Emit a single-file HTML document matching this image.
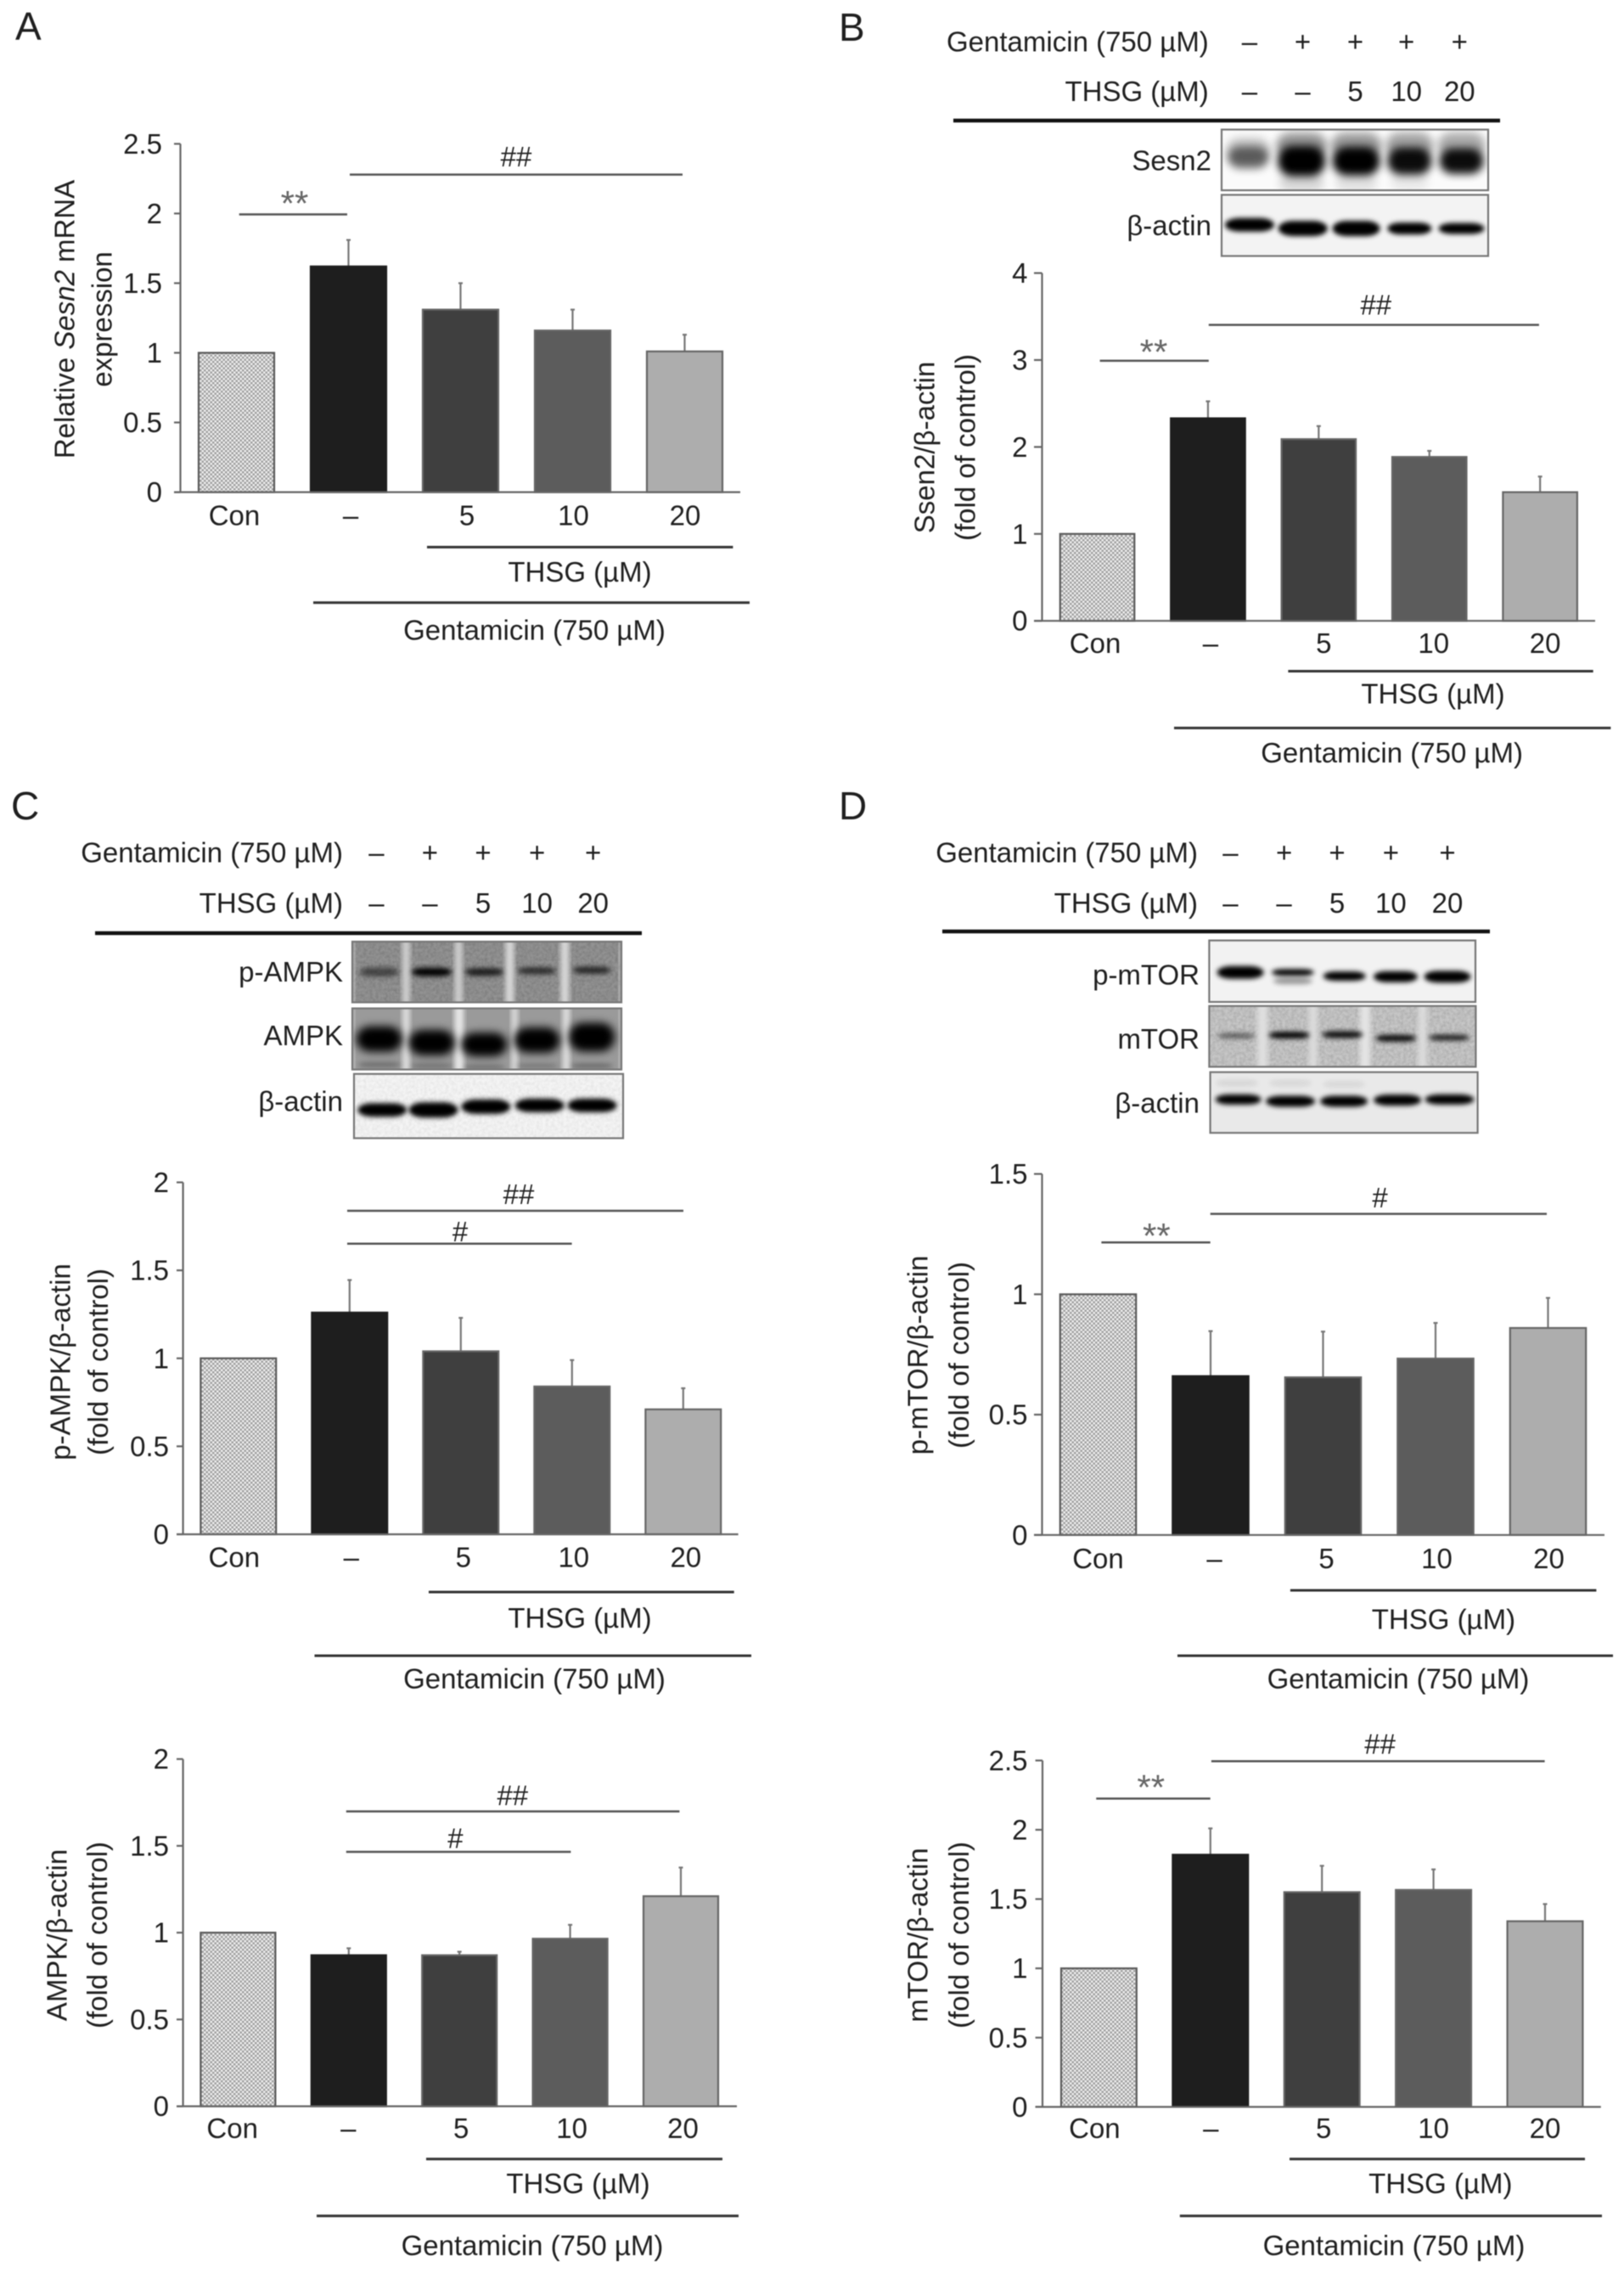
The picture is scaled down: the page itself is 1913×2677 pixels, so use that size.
<!DOCTYPE html>
<html lang="en">
<head>
<meta charset="utf-8">
<title>Sesn2, AMPK and mTOR expression charts</title>
<style>
  html, body { margin: 0; padding: 0; background: #fff; }
  #figure { display: block; width: 1913px; height: 2677px; filter: blur(0.6px); }
  text { font-family: "Liberation Sans", "DejaVu Sans", sans-serif; fill: #1f1f1f; }
</style>
</head>
<body>
<svg id="figure" xmlns="http://www.w3.org/2000/svg" width="1913" height="2677" viewBox="0 0 1913 2677">
  <defs>
    <pattern id="hatch" width="5" height="5" patternUnits="userSpaceOnUse">
      <rect width="5" height="5" fill="#eeeeee"></rect>
      <rect width="2.5" height="2.5" fill="#a0a0a0"></rect>
      <rect x="2.5" y="2.5" width="2.5" height="2.5" fill="#a0a0a0"></rect>
    </pattern>
    <filter id="soft" x="-30%" y="-150%" width="160%" height="400%"><feGaussianBlur stdDeviation="2.8"></feGaussianBlur></filter>
    <filter id="softer" x="-30%" y="-150%" width="160%" height="400%"><feGaussianBlur stdDeviation="5"></feGaussianBlur></filter>
    <filter id="grain" x="0" y="0" width="100%" height="100%">
      <feTurbulence type="fractalNoise" baseFrequency="0.28" numOctaves="2" seed="4"></feTurbulence>
      <feColorMatrix type="matrix" values="0 0 0 0 0.15  0 0 0 0 0.15  0 0 0 0 0.15  1.7 0 0 0 -0.55"></feColorMatrix>
    </filter>
  </defs>
</svg>
<script>
// ---- Chart data ----
const categories = ['Con', '–', '5', '10', '20'];

const sesn2MrnaValues = [1, 1.62, 1.31, 1.16, 1.01];
const sesn2MrnaErrors = [0, 0.19, 0.19, 0.15, 0.12];
const sesn2MrnaTicks = ['0', '0.5', '1', '1.5', '2', '2.5'];

const sesn2ProteinValues = [1, 2.33, 2.09, 1.885, 1.48];
const sesn2ProteinErrors = [0, 0.195, 0.15, 0.07, 0.18];
const sesn2ProteinTicks = ['0', '1', '2', '3', '4'];

const pAmpkValues = [1, 1.26, 1.04, 0.84, 0.71];
const pAmpkErrors = [0, 0.185, 0.19, 0.15, 0.12];
const pAmpkTicks = ['0', '0.5', '1', '1.5', '2'];

const ampkValues = [1, 0.87, 0.87, 0.965, 1.21];
const ampkErrors = [0, 0.04, 0.02, 0.08, 0.165];
const ampkTicks = ['0', '0.5', '1', '1.5', '2'];

const pMtorValues = [1, 0.66, 0.655, 0.733, 0.86];
const pMtorErrors = [0, 0.187, 0.19, 0.148, 0.125];
const pMtorTicks = ['0', '0.5', '1', '1.5'];

const mtorValues = [1, 1.82, 1.55, 1.566, 1.34];
const mtorErrors = [0, 0.19, 0.19, 0.148, 0.124];
const mtorTicks = ['0', '0.5', '1', '1.5', '2', '2.5'];

const barFills = ['url(#hatch)', '#1e1e1e', '#3f3f3f', '#5c5c5c', '#adadad'];
const barKeys = ['con', 'gentamicin', 'thsg-5', 'thsg-10', 'thsg-20'];

// ---- Drawing helpers ----
const NS = 'http://www.w3.org/2000/svg';
const root = document.getElementById('figure');
const FS = 33;

function el(tag, name, attrs, parent) {
  const e = document.createElementNS(NS, tag);
  
  
  for (const k in attrs) e.setAttribute(k, attrs[k]);
  (parent || root).appendChild(e);
  return e;
}
function txt(name, x, y, str, anchor, parent, size, fill) {
  const t = el('text', name, { x: x, y: y, 'text-anchor': anchor || 'middle', 'font-size': size || FS }, parent);
  if (fill) t.style.fill = fill;
  t.textContent = str;
  return t;
}
function line(name, x1, x2, y, w, color, parent) {
  return el('line', name, { x1: x1, x2: x2, y1: y, y2: y, stroke: color || '#555', 'stroke-width': w || 2.5 }, parent);
}

function drawChart(c) {
  const g = el('g', c.name, {});
  const sy = v => c.y0 - (v / c.yMax) * (c.y0 - c.top);
  const bx = i => c.barLeft + i * c.pitch;

  // bars + error bars
  c.values.forEach((v, i) => {
    const topY = sy(v);
    if (c.errors[i] > 0) {
      const errY = sy(v + c.errors[i]);
      el('line', 'error-bar-' + barKeys[i], { x1: bx(i) + c.barW / 2, x2: bx(i) + c.barW / 2, y1: topY, y2: errY, stroke: '#777', 'stroke-width': 2.2 }, g);
      el('line', 'error-cap-' + barKeys[i], { x1: bx(i) + c.barW / 2 - 2.5, x2: bx(i) + c.barW / 2 + 2.5, y1: errY, y2: errY, stroke: '#777', 'stroke-width': 2.2 }, g);
    }
    el('rect', 'bar-' + barKeys[i], { x: bx(i), y: topY, width: c.barW, height: c.y0 - topY, fill: barFills[i], stroke: i === 0 ? '#5a5a5a' : (i === 1 ? '#1e1e1e' : '#666'), 'stroke-width': 2.2 }, g);
  });

  // axes
  el('line', 'y-axis', { x1: c.axisX, x2: c.axisX, y1: c.top, y2: c.y0, stroke: '#666', 'stroke-width': 2.2 }, g);
  el('line', 'x-axis', { x1: c.tickLeft, x2: c.right, y1: c.y0, y2: c.y0, stroke: '#666', 'stroke-width': 2.2 }, g);
  c.ticks.forEach(t => {
    const y = sy(parseFloat(t));
    el('line', 'y-tick', { x1: c.tickLeft, x2: c.axisX, y1: y, y2: y, stroke: '#666', 'stroke-width': 2.2 }, g);
    txt('y-tick-label', c.tickRight, y + 11.5, t, 'end', g);
  });

  // category labels
  c.cats.forEach((cat, i) => {
    txt('x-category-label', bx(i) + c.barW / 2 + c.labelDx[i], c.labelBase, cat, 'middle', g);
  });

  // group rules and captions
  line('thsg-rule', c.thsg[0], c.thsg[1], c.thsg[2], 3, '#333', g);
  txt('thsg-caption', c.thsg[3], c.thsg[4], 'THSG (µM)', 'middle', g);
  line('gentamicin-rule', c.gent[0], c.gent[1], c.gent[2], 3, '#333', g);
  txt('gentamicin-caption', c.gent[3], c.gent[4], 'Gentamicin (750 µM)', 'middle', g);

  // significance annotations
  c.sig.forEach(s => {
    line('significance-line', s[0], s[1], s[2], 2.5, '#555', g);
    if (s[3].indexOf('*') >= 0) {
      txt('significance-stars', s[4], s[5] + 21, s[3], 'middle', g, 42, '#666');
    } else {
      txt('significance-hash', s[4], s[5] + 11.5, s[3], 'middle', g, FS, '#222');
    }
  });

  // y axis title
  const t1 = el('text', 'y-axis-title', { transform: 'translate(' + (c.titleX[0] + 11) + ',' + c.titleY + ') rotate(-90)', 'text-anchor': 'middle', 'font-size': FS }, g);
  c.title(t1);
  const t2 = el('text', 'y-axis-title-line-2', { transform: 'translate(' + (c.titleX[1] + 11) + ',' + c.titleY + ') rotate(-90)', 'text-anchor': 'middle', 'font-size': FS }, g);
  t2.textContent = c.title2;
}

let clipCount = 0;
function blot(name, x, y, w, h, bg, lanes, gaps, noise, labelText, labelRight, labelBase) {
  const g = el('g', name, {});
  clipCount++;
  const cp = el('clipPath', 'blot-clip', { id: 'clip' + clipCount }, g);
  el('rect', 'blot-clip-rect', { x: x, y: y, width: w, height: h }, cp);
  const inner = el('g', 'blot-image', { 'clip-path': 'url(#clip' + clipCount + ')' }, g);
  el('rect', 'blot-background', { x: x, y: y, width: w, height: h, fill: bg }, inner);
  if (noise) el('rect', 'blot-grain', { x: x, y: y, width: w, height: h, fill: '#000', filter: 'url(#grain)', opacity: noise }, inner);
  gaps.forEach(p => {
    el('rect', 'lane-gap', { x: x + p[0] * w - p[1] / 2, y: y - 10, width: p[1], height: h + 20, fill: p[2], filter: 'url(#soft)' }, inner);
  });
  lanes.forEach(l => {
    el('rect', 'blot-band', { x: x + l[0] * w - l[1] / 2, y: y + l[2] * h - l[3] / 2, width: l[1], height: l[3], rx: l[1] * 0.3, ry: l[3] / 2, fill: '#000', opacity: l[4], filter: l[5] ? 'url(#softer)' : 'url(#soft)' }, inner);
  });
  el('rect', 'blot-frame', { x: x, y: y, width: w, height: h, fill: 'none', stroke: '#777', 'stroke-width': 2.2 }, g);
  txt('blot-label', labelRight, labelBase, labelText, 'end', g);
}

function header(name, right, base1, base2, cols, rule) {
  const g = el('g', name, {});
  txt('gentamicin-row-label', right, base1, 'Gentamicin (750 µM)', 'end', g);
  txt('thsg-row-label', right, base2, 'THSG (µM)', 'end', g);
  const row1 = ['–', '+', '+', '+', '+'];
  const row2 = ['–', '–', '5', '10', '20'];
  cols.forEach((x, i) => {
    txt('gentamicin-dose-marker', x, base1, row1[i], 'middle', g);
    txt('thsg-dose-marker', x, base2, row2[i], 'middle', g);
  });
  line('header-rule', rule[0], rule[1], rule[2], 4.5, '#111', g);
}

// ---- Panel letters ----
txt('panel-label-a', 18, 47, 'A', 'start', null, 46);
txt('panel-label-b', 988, 48, 'B', 'start', null, 46);
txt('panel-label-c', 13, 965, 'C', 'start', null, 46);
txt('panel-label-d', 988, 965, 'D', 'start', null, 46);

// ---- Panel A ----
drawChart({
  name: 'chart-sesn2-mrna', cats: categories, values: sesn2MrnaValues, errors: sesn2MrnaErrors, ticks: sesn2MrnaTicks,
  yMax: 2.5, axisX: 212.5, tickLeft: 205, right: 872, top: 169.4, y0: 579.6, barLeft: 234, pitch: 132, barW: 89,
  labelDx: [-2.5, 2.5, 7.5, 1, 0.5], labelBase: 618.4, tickRight: 191,
  thsg: [503, 863.4, 644.4, 683, 685], gent: [369, 883, 709.7, 629.5, 753.6],
  sig: [[281.7, 409, 252.5, '**', 347, 233], [412, 804, 205.6, '##', 608, 184.7]],
  titleX: [76.5, 120.6], titleY: 376,
  title: t => {
    t.appendChild(document.createTextNode('Relative '));
    const it = document.createElementNS(NS, 'tspan');
    
    
    it.setAttribute('font-style', 'italic');
    it.textContent = 'Sesn2';
    t.appendChild(it);
    t.appendChild(document.createTextNode(' mRNA'));
  },
  title2: 'expression'
});

// ---- Panel B ----
header('panel-b-treatment-header', 1423.8, 60.4, 119, [1471.9, 1534.5, 1596.5, 1656.7, 1719.3], [1123, 1767, 142]);
blot('blot-sesn2', 1439, 152.6, 314, 71.5, '#fbfbfb', [
  [0.10, 52, 0.34, 30, 0.2, 1], [0.30, 60, 0.26, 30, 0.4, 1], [0.505, 60, 0.26, 30, 0.38, 1], [0.705, 56, 0.26, 30, 0.35, 1], [0.90, 56, 0.26, 30, 0.32, 1],
  [0.30, 54, 0.88, 20, 0.14, 1], [0.505, 50, 0.88, 20, 0.1, 1], [0.705, 46, 0.86, 18, 0.08, 1],
  [0.10, 48, 0.46, 26, 0.55, 1], [0.30, 56, 0.52, 36, 1, 1], [0.505, 56, 0.52, 34, 1, 1], [0.705, 52, 0.52, 32, 0.95, 1], [0.90, 52, 0.52, 30, 0.95, 1]
], [], 0, 'Sesn2', 1427, 200.7);
blot('blot-b-actin-b', 1439, 229.5, 314, 72, '#f3f3f3', [
  [0.105, 58, 0.49, 16, 1], [0.305, 58, 0.55, 18, 1], [0.505, 56, 0.55, 18, 1], [0.705, 52, 0.55, 14, 1], [0.90, 54, 0.55, 13, 1]
], [], 0, 'β-actin', 1427, 277);
drawChart({
  name: 'chart-sesn2-protein', cats: categories, values: sesn2ProteinValues, errors: sesn2ProteinErrors, ticks: sesn2ProteinTicks,
  yMax: 4, axisX: 1227.5, tickLeft: 1218, right: 1879, top: 321.6, y0: 731.2, barLeft: 1248.8, pitch: 130.4, barW: 87.5,
  labelDx: [-2.5, 3, 6, 5, 6], labelBase: 768.8, tickRight: 1210.5,
  thsg: [1517.4, 1876.7, 790.5, 1688, 828.6], gent: [1383, 1897.4, 857.4, 1639.6, 897.9],
  sig: [[1295.6, 1423.8, 424.9, '**', 1359, 407.9], [1423.8, 1812.9, 382.6, '##', 1620.8, 359]],
  titleX: [1089.5, 1137.5], titleY: 527,
  title: t => { t.textContent = 'Ssen2/β-actin'; },
  title2: '(fold of control)'
});

// ---- Panel C ----
header('panel-c-treatment-header', 404, 1015.7, 1075, [443.4, 506.4, 569, 632.6, 698.7], [112, 756, 1099]);
blot('blot-p-ampk', 415, 1109, 317, 71.5, '#929292', [
  [0.10, 46, 0.5, 11, 0.5], [0.295, 47, 0.5, 10, 1], [0.49, 45, 0.5, 9, 0.8], [0.686, 45, 0.48, 8, 0.7], [0.89, 45, 0.47, 8, 0.75]
], [[0.2, 9, '#cfcfcf'], [0.395, 9, '#cfcfcf'], [0.585, 10, '#d8d8d8'], [0.79, 10, '#d8d8d8'], [0.005, 3, '#cfcfcf'], [0.995, 3, '#cfcfcf']], 0.6, 'p-AMPK', 404, 1156);
blot('blot-ampk', 415, 1187.6, 317, 72, '#9a9a9a', [
  [0.10, 54, 0.5, 30, 1, 1], [0.295, 54, 0.56, 30, 1, 1], [0.49, 54, 0.59, 28, 1, 1], [0.686, 54, 0.52, 30, 1, 1], [0.89, 54, 0.47, 34, 1, 1],
  [0.10, 50, 0.92, 6, 0.3], [0.295, 50, 0.94, 5, 0.3], [0.49, 50, 0.96, 5, 0.3], [0.686, 50, 0.94, 5, 0.25], [0.89, 50, 0.94, 5, 0.35]
], [[0.2, 9, '#dcdcdc'], [0.397, 11, '#e6e6e6'], [0.603, 8, '#d8d8d8'], [0.795, 9, '#dcdcdc'], [0.005, 3, '#ccc'], [0.995, 3, '#ccc']], 0, 'AMPK', 404, 1231);
blot('blot-b-actin-c', 417, 1264.8, 317, 75.7, '#f4f4f4', [
  [0.105, 58, 0.56, 16, 1], [0.295, 58, 0.56, 18, 1], [0.49, 58, 0.51, 17, 1], [0.69, 58, 0.49, 16, 1], [0.885, 58, 0.49, 16, 1]
], [], 0.1, 'β-actin', 404, 1308.3);
drawChart({
  name: 'chart-p-ampk', cats: categories, values: pAmpkValues, errors: pAmpkErrors, ticks: pAmpkTicks,
  yMax: 2, axisX: 215.6, tickLeft: 208, right: 869.6, top: 1392.5, y0: 1807, barLeft: 236.4, pitch: 131, barW: 88.8,
  labelDx: [-5, 2, 3, 2, 3], labelBase: 1845.6, tickRight: 199,
  thsg: [505, 864.7, 1875, 683, 1917], gent: [370.5, 885, 1950, 629.5, 1988.7],
  sig: [[409, 805, 1426, '##', 611, 1406.5], [409, 673.6, 1464.7, '#', 542, 1450.7]],
  titleX: [71.6, 116], titleY: 1604,
  title: t => { t.textContent = 'p-AMPK/β-actin'; },
  title2: '(fold of control)'
});
drawChart({
  name: 'chart-ampk', cats: categories, values: ampkValues, errors: ampkErrors, ticks: ampkTicks,
  yMax: 2, axisX: 215.6, tickLeft: 208, right: 868, top: 2071.7, y0: 2480.6, barLeft: 236.4, pitch: 130.4, barW: 88,
  labelDx: [-6.7, -0.5, 2, 2, 2.5], labelBase: 2518, tickRight: 199,
  thsg: [502, 851, 2542.7, 681, 2583], gent: [373, 870, 2609.7, 627, 2656],
  sig: [[407.8, 800.4, 2133.4, '##', 603.8, 2114.4], [407.8, 672.4, 2181, '#', 536.4, 2165]],
  titleX: [67.4, 115], titleY: 2279,
  title: t => { t.textContent = 'AMPK/β-actin'; },
  title2: '(fold of control)'
});

// ---- Panel D ----
header('panel-d-treatment-header', 1411, 1015.7, 1075, [1449.4, 1512.6, 1575, 1638.4, 1705], [1110, 1755, 1097]);
blot('blot-p-mtor', 1424.4, 1107.6, 313.6, 72.4, '#f2f2f2', [
  [0.117, 55, 0.52, 15, 1], [0.314, 50, 0.52, 8, 1], [0.314, 46, 0.66, 7, 0.4], [0.508, 50, 0.58, 11, 1], [0.70, 52, 0.59, 13, 1], [0.895, 55, 0.59, 14, 1]
], [], 0, 'p-mTOR', 1413, 1159.6);
blot('blot-mtor', 1424.4, 1184.8, 314, 71.6, '#c6c6c6', [
  [0.102, 44, 0.49, 6, 0.55], [0.30, 48, 0.48, 8, 1], [0.50, 48, 0.47, 8, 0.95], [0.70, 48, 0.53, 8, 0.95], [0.90, 48, 0.52, 7, 0.85]
], [[0.2, 12, '#dfdfdf'], [0.39, 10, '#dcdcdc'], [0.585, 12, '#e4e4e4'], [0.8, 10, '#dcdcdc']], 0.3, 'mTOR', 1413, 1235);
blot('blot-b-actin-d', 1425.6, 1262.7, 315, 71.5, '#e9e9e9', [
  [0.10, 50, 0.18, 8, 0.08], [0.30, 50, 0.18, 8, 0.07], [0.50, 50, 0.2, 8, 0.07],
  [0.105, 54, 0.45, 12, 1], [0.30, 58, 0.48, 13, 1], [0.50, 56, 0.48, 13, 1], [0.70, 56, 0.46, 13, 1], [0.895, 58, 0.45, 12, 1]
], [], 0, 'β-actin', 1413, 1310.4);
drawChart({
  name: 'chart-p-mtor', cats: categories, values: pMtorValues, errors: pMtorErrors, ticks: pMtorTicks,
  yMax: 1.5, axisX: 1227.5, tickLeft: 1218, right: 1890, top: 1382.6, y0: 1807.8, barLeft: 1248.8, pitch: 132.5, barW: 89.4,
  labelDx: [0, 4.5, 4, 1.5, 1], labelBase: 1847, tickRight: 1210.5,
  thsg: [1519.9, 1880.4, 1873, 1700.4, 1918.6], gent: [1387, 1900, 1950, 1647, 1988.7],
  sig: [[1297.4, 1425.7, 1463.3, '**', 1362.4, 1449], [1425.7, 1822, 1429.6, '#', 1625.6, 1410.7]],
  titleX: [1081.6, 1130], titleY: 1596,
  title: t => { t.textContent = 'p-mTOR/β-actin'; },
  title2: '(fold of control)'
});
drawChart({
  name: 'chart-mtor', cats: categories, values: mtorValues, errors: mtorErrors, ticks: mtorTicks,
  yMax: 2.5, axisX: 1228, tickLeft: 1219.6, right: 1885.8, top: 2073.4, y0: 2481.4, barLeft: 1250, pitch: 131.4, barW: 88.8,
  labelDx: [-5, 0.5, 2, 0, 0], labelBase: 2518, tickRight: 1210.5,
  thsg: [1519, 1867, 2542.7, 1696.8, 2583], gent: [1389.8, 1887, 2609.7, 1642, 2656],
  sig: [[1291.3, 1425.7, 2118.3, '**', 1355.7, 2098.4], [1426.9, 1819.6, 2074.3, '##', 1625.6, 2054]],
  titleX: [1081.6, 1130], titleY: 2279,
  title: t => { t.textContent = 'mTOR/β-actin'; },
  title2: '(fold of control)'
});
</script>
</body>
</html>
